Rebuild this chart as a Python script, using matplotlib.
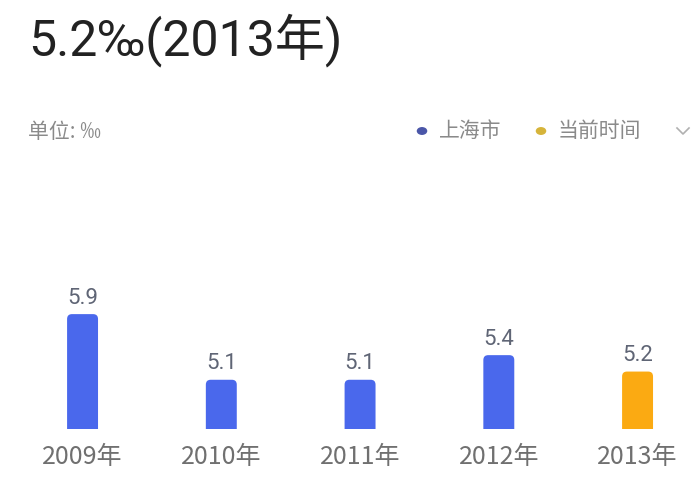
import matplotlib
matplotlib.use("Agg")
import matplotlib.pyplot as plt
from matplotlib.patches import FancyBboxPatch
from matplotlib.lines import Line2D

plt.rcParams['font.family'] = ['Noto Sans CJK SC', 'DejaVu Sans']
latin = ['Roboto', 'Noto Sans CJK SC', 'DejaVu Sans']

years = ['2009年', '2010年', '2011年', '2012年', '2013年']
values = [5.9, 5.1, 5.1, 5.4, 5.2]
colors = ['#4a68ec', '#4a68ec', '#4a68ec', '#4a68ec', '#fbaa12']
title = '5.2‰(2013年)'
unit = '单位: ‰'
legend_names = ['上海市', '当前时间']
legend_colors = ['#4a56a8', '#d6b43a']

fig = plt.figure(figsize=(7, 5), dpi=100)
fig.patch.set_facecolor('white')

ax = fig.add_axes([0, 0.142, 1, 0.558])
ax.set_xlim(-0.595, 4.45)
ax.set_ylim(4.5, 7.9)

bw = 0.223
bars = ax.bar(range(len(values)), values, width=bw, color=colors)
# swap the plain bars for rounded ones
for b, c in zip(bars, colors):
    b.set_visible(False)
    p = FancyBboxPatch((b.get_x(), 0), b.get_width(), b.get_height(),
                       boxstyle='round,pad=0,rounding_size=0.035',
                       mutation_aspect=1.7, facecolor=c, edgecolor='none')
    ax.add_patch(p)

for i, v in enumerate(values):
    ax.annotate(f'{v}', (i, v), xytext=(0, 4), textcoords='offset points',
                ha='center', va='bottom', fontsize=16, color='#5f6575',
                family=latin)

ax.set_xticks(range(len(years)))
ax.set_xticklabels(years, fontsize=18, color='#707070')
for t in ax.get_xticklabels():
    t.set_fontweight('light')
ax.tick_params(axis='x', length=0, pad=11)
ax.set_yticks([])
for s in ax.spines.values():
    s.set_visible(False)
ax.set_facecolor('none')

fig.text(28 / 700, 1 - 40 / 500, title, fontsize=36, color='#222222',
         ha='left', va='center', family=latin)
fig.text(28 / 700, 1 - 132 / 500, unit, fontsize=15, color='#8a8a8a',
         ha='left', va='center')

# legend
lx = [422, 541]
for x, name, c in zip(lx, legend_names, legend_colors):
    fig.patches.append(plt.Circle((x / 700, 1 - 131 / 500), 0.0065,
                                  transform=fig.transFigure, color=c,
                                  figure=fig))
    fig.text((x + 17) / 700, 1 - 131 / 500, name, fontsize=15,
             color='#8a8a8a', ha='left', va='center')
fig.lines.append(Line2D([677 / 700, 683 / 700, 689 / 700],
                        [1 - 128 / 500, 1 - 134 / 500, 1 - 128 / 500],
                        transform=fig.transFigure, color='#b0b0b0', lw=1.2))

fig.savefig('out.png', dpi=100, facecolor='white')
